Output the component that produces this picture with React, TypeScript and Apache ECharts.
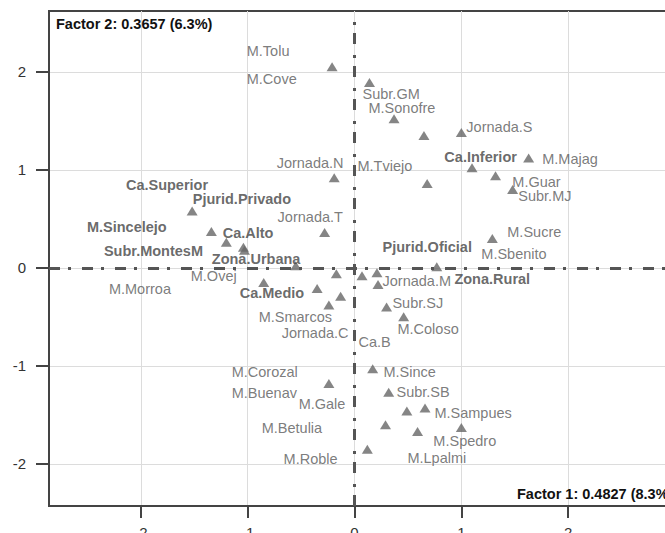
import React, { useEffect, useRef } from "react";
import * as echarts from "echarts";

// Triangle points (Factor 1, Factor 2)
const pointX = [-0.21, 0.14, 0.37, 0.65, 1.0, 1.1, 1.63, 1.32, 1.48, 0.68, -0.19, 1.29, 0.77, -1.52, -1.34, -1.2, -1.04, -1.03, -0.28, -0.55, -0.85, -0.35, -0.17, 0.07, 0.21, 0.22, -0.13, -0.24, 0.3, 0.46, -0.24, 0.17, 0.32, 0.49, 0.66, 0.29, 0.59, 1.0, 0.12];
const pointY = [2.05, 1.89, 1.52, 1.35, 1.38, 1.02, 1.12, 0.94, 0.8, 0.86, 0.92, 0.3, 0.01, 0.58, 0.37, 0.26, 0.21, 0.18, 0.36, 0.02, -0.15, -0.21, -0.06, -0.08, -0.05, -0.17, -0.29, -0.38, -0.4, -0.5, -1.18, -1.03, -1.27, -1.46, -1.43, -1.6, -1.67, -1.63, -1.85];

// Text labels: name, anchor (left edge, middle) in data coordinates
const labelNames = ["M.Tolu", "M.Cove", "Jornada.N", "Subr.GM", "M.Sonofre", "Jornada.S", "Ca.Inferior", "M.Majag", "M.Tviejo", "M.Guar", "Subr.MJ", "M.Sucre", "Pjurid.Oficial", "M.Sbenito", "Jornada.M", "Zona.Rural", "Subr.SJ", "M.Coloso", "Ca.B", "Ca.Superior", "Pjurid.Privado", "Jornada.T", "M.Sincelejo", "Ca.Alto", "Subr.MontesM", "Zona.Urbana", "M.Ovej", "M.Morroa", "Ca.Medio", "M.Smarcos", "Jornada.C", "M.Corozal", "M.Buenav", "M.Gale", "M.Betulia", "M.Roble", "M.Since", "Subr.SB", "M.Sampues", "M.Spedro", "M.Lpalmi"];
const labelX = [-1.009, -1.009, -0.729, 0.075, 0.131, 1.047, 0.841, 1.757, 0.028, 1.477, 1.533, 1.43, 0.262, 1.187, 0.262, 0.935, 0.355, 0.402, 0.037, -2.14, -1.514, -0.72, -2.505, -1.234, -2.346, -1.336, -1.533, -2.299, -1.075, -0.897, -0.682, -1.15, -1.15, -0.523, -0.869, -0.664, 0.271, 0.393, 0.748, 0.738, 0.495];
const labelY = [2.214, 1.929, 1.071, 1.776, 1.633, 1.439, 1.133, 1.112, 1.041, 0.878, 0.735, 0.367, 0.214, 0.143, -0.133, -0.112, -0.357, -0.622, -0.755, 0.847, 0.704, 0.52, 0.418, 0.357, 0.173, 0.092, -0.082, -0.214, -0.255, -0.5, -0.663, -1.061, -1.276, -1.388, -1.633, -1.949, -1.061, -1.265, -1.48, -1.765, -1.939];
const boldLabels = ["Ca.Inferior", "Pjurid.Oficial", "Zona.Rural", "Ca.Superior", "Pjurid.Privado", "M.Sincelejo", "Ca.Alto", "Subr.MontesM", "Zona.Urbana", "Ca.Medio"];

const tickValues = [-2, -1, 0, 1, 2];
const xTitle = "Factor 1: 0.4827 (8.3%)";
const yTitle = "Factor 2: 0.3657 (6.3%)";

const FONT = "'Liberation Sans', Arial, sans-serif";

export default function App() {
  const ref = useRef<HTMLDivElement>(null);
  useEffect(() => {
    if (!ref.current) return;
    const chart = echarts.init(ref.current, undefined, { renderer: "svg" });
    const points = pointX.map((x, i) => [x, pointY[i]]);
    const labels = labelNames.map((n, i) => {
      const bold = boldLabels.includes(n);
      return {
        name: n,
        value: [labelX[i], labelY[i]],
        label: {
          fontWeight: bold ? "bold" : "normal",
          color: bold ? "#444" : "#5a5a5a",
          fontSize: 14.5,
        },
      };
    });
    const dashDot = { type: [11, 8, 3, 11], width: 3, color: "#555" };
    chart.setOption({
      animation: false,
      backgroundColor: "#fff",
      grid: {
        left: 49, right: -10, top: 11, bottom: 27,
        outerBoundsMode: "none",
        containLabel: false,
        show: true, borderColor: "#444", borderWidth: 2, backgroundColor: "transparent",
      },
      xAxis: {
        type: "value", min: -2.86, max: 3.0, minInterval: 1, maxInterval: 1,
        axisLine: { onZero: false, lineStyle: { color: "#444", width: 2 } },
        axisTick: { length: 12, lineStyle: { color: "#444", width: 2 }, customValues: tickValues },
        axisLabel: { customValues: tickValues, margin: 19, fontSize: 15, color: "#333", fontFamily: FONT },
        splitLine: { lineStyle: { color: "#dcdcdc", width: 1 } },
      },
      yAxis: {
        type: "value", min: -2.43, max: 2.62, minInterval: 1, maxInterval: 1,
        axisLine: { onZero: false, lineStyle: { color: "#444", width: 2 } },
        axisTick: { length: 13, lineStyle: { color: "#444", width: 2 }, customValues: tickValues },
        axisLabel: { customValues: tickValues, margin: 23, fontSize: 15, color: "#333", fontFamily: FONT },
        splitLine: { lineStyle: { color: "#dcdcdc", width: 1 } },
      },
      series: [
        {
          type: "line",
          data: [],
          z: 1,
          silent: true,
          markLine: {
            silent: true,
            symbol: "none",
            label: { show: false },
            lineStyle: dashDot,
            data: [{ xAxis: 0 }, { yAxis: 0 }],
          },
        },
        {
          type: "scatter",
          z: 3,
          symbol: "triangle",
          symbolSize: [11, 9],
          itemStyle: { color: "#666" },
          data: points,
          silent: true,
        },
        {
          type: "scatter",
          z: 4,
          symbolSize: 0,
          silent: true,
          data: labels,
          label: {
            show: true,
            position: "right",
            distance: 0,
            formatter: (p: any) => p.name,
            fontFamily: FONT,
          },
        },
      ],
      graphic: [
        {
          type: "text", left: 56, top: 16, z: 10,
          style: { text: yTitle, font: `bold 14.5px ${FONT}`, fill: "#111" },
        },
        {
          type: "text", left: 517, top: 486, z: 10,
          style: { text: xTitle, font: `bold 14.5px ${FONT}`, fill: "#111" },
        },
      ],
    });
    return () => chart.dispose();
  }, []);
  return (
    <div
      ref={ref}
      style={{ position: "fixed", left: 0, top: 0, width: 665, height: 533, background: "#fff" }}
    />
  );
}
